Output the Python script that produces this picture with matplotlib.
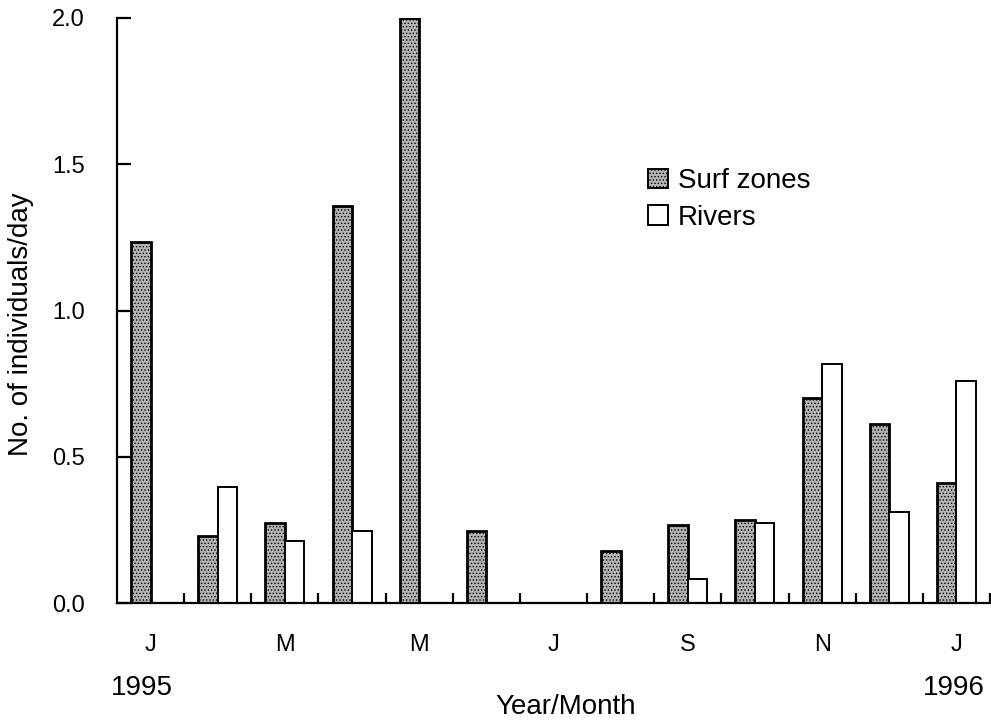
import matplotlib
matplotlib.use("Agg")
import matplotlib.pyplot as plt
import numpy as np

months = ["J", "F", "M", "A", "M", "J", "J", "A", "S", "O", "N", "D", "J"]
month_labels = ["J", "", "M", "", "M", "", "J", "", "S", "", "N", "", "J"]
surf_zones = [1.234, 0.229, 0.275, 1.357, 2.0, 0.246, 0.0, 0.177, 0.267, 0.284, 0.70, 0.612, 0.409]
rivers = [0.0, 0.398, 0.211, 0.246, 0.0, 0.0, 0.0, 0.0, 0.083, 0.275, 0.817, 0.31, 0.759]
yticks = [0.0, 0.5, 1.0, 1.5, 2.0]

plt.rcParams['font.family'] = ['Liberation Sans', 'DejaVu Sans']
plt.rcParams['hatch.color'] = '#6e6e6e'
plt.rcParams['hatch.linewidth'] = 0.6

fig = plt.figure(figsize=(9.91, 7.22), dpi=100)
ax = fig.add_axes([117/991, (722-603)/722, (990-117)/991, (603-18)/722])

n = len(months)
x = np.arange(n)
w = 0.29
b1 = ax.bar(x + 0.5 - w, surf_zones, width=w, align='edge', facecolor='#b4b4b4',
            edgecolor='black', linewidth=2.0, hatch='.....', label='Surf zones', zorder=3)
b2 = ax.bar(x + 0.5, rivers, width=w, align='edge', facecolor='white',
            edgecolor='black', linewidth=1.4, label='Rivers', zorder=3)

ax.set_xlim(0, n)
ax.set_ylim(0, 2.0)
ax.spines['top'].set_visible(False)
ax.spines['right'].set_visible(False)
ax.spines['left'].set_linewidth(1.6)
ax.spines['bottom'].set_linewidth(1.6)
ax.spines['bottom'].set_zorder(4)

ax.set_yticks(yticks)
ax.set_yticklabels([f"{v:.1f}" for v in yticks], fontsize=17)
ax.tick_params(axis='y', direction='in', length=10, width=1.6, pad=23)

ax.set_xticks(np.arange(1, n + 1))
ax.set_xticklabels([])
ax.tick_params(axis='x', which='major', direction='in', length=7, width=1.6)
ax.set_xticks(x + 0.5, minor=True)
ax.set_xticklabels(month_labels, minor=True, fontsize=17)
ax.tick_params(axis='x', which='minor', length=0, pad=22)

fig.text(21/991, 1 - 324/722, "No. of individuals/day", fontsize=20, rotation=90,
         ha='center', va='center')
fig.text(142/991, 1 - 688/722, "1995", fontsize=20, ha='center', va='center')
fig.text(954/991, 1 - 688/722, "1996", fontsize=20, ha='center', va='center')
fig.text(566/991, 1 - 707/722, "Year/Month", fontsize=20, ha='center', va='center')

leg = fig.legend(handles=[b1, b2], loc='upper left', bbox_to_anchor=(648/991, 1 - 168/722),
                 frameon=False, fontsize=20, handlelength=0.72, handleheight=0.7,
                 handletextpad=0.36, labelspacing=0.38, borderpad=0, borderaxespad=0)
for h in leg.legend_handles:
    h.set_linewidth(1.4)

fig.savefig("out.png", dpi=100)
